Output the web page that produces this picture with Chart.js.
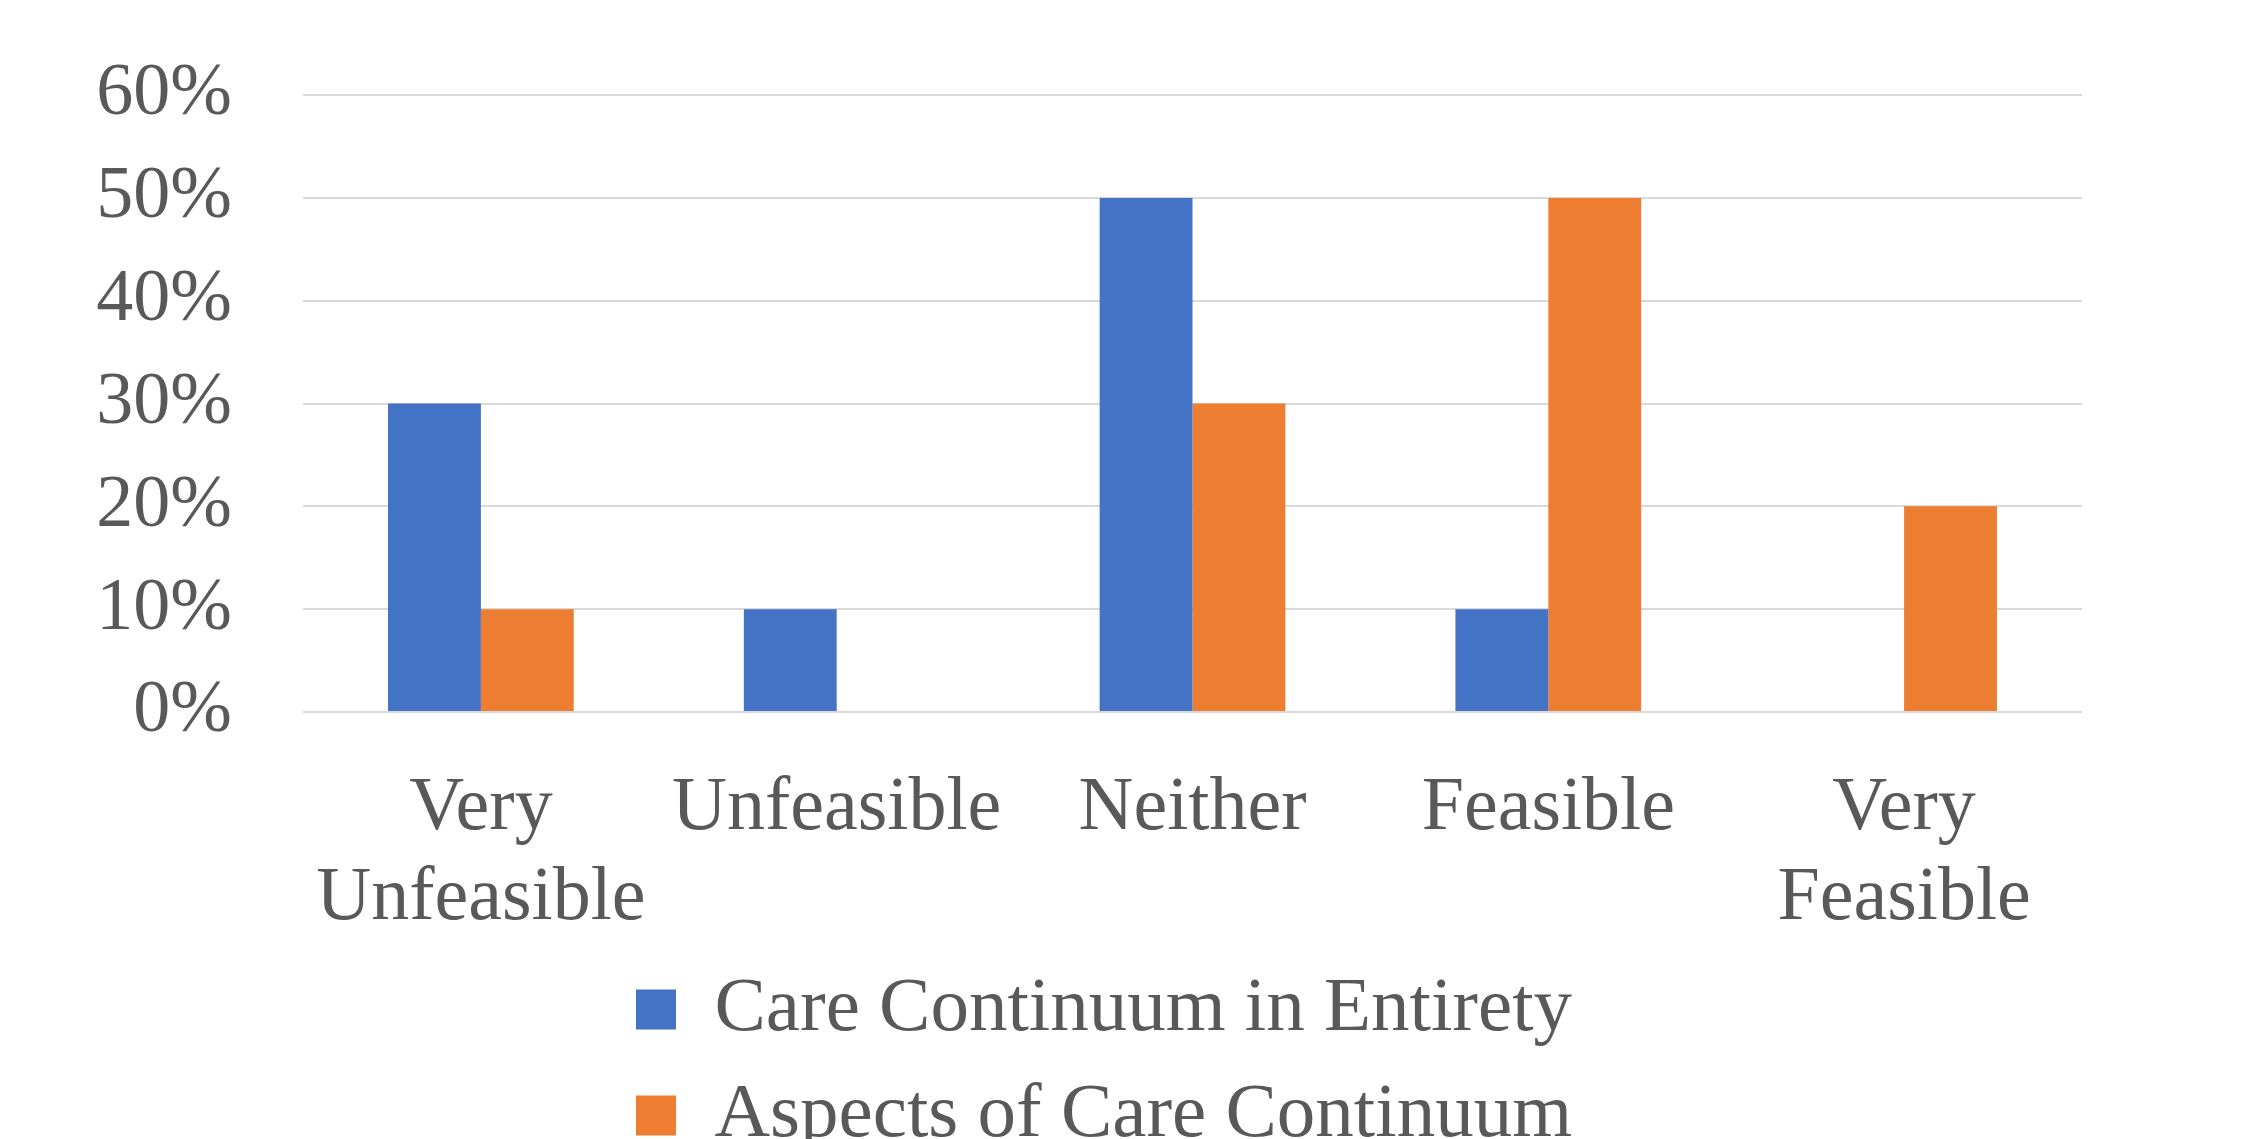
<!DOCTYPE html>
<html>
<head>
<meta charset="utf-8">
<script src="https://cdn.jsdelivr.net/npm/chart.js@4/dist/chart.umd.min.js"></script>
<style>
  html, body { margin: 0; padding: 0; background: #ffffff; overflow: hidden; }
  #wrap { width: 2267px; height: 1139px; overflow: hidden; }
  canvas { display: block; }
</style>
</head>
<body>
<div id="wrap"><canvas id="chart" width="2267" height="1164"></canvas></div>
<script>
// Feasibility ratings (share of respondents, %)
const categories = [["Very", "Unfeasible"], "Unfeasible", "Neither", "Feasible", ["Very", "Feasible"]];
const seriesNames = ["Care Continuum in Entirety", "Aspects of Care Continuum"];
const entiretyValues = [30, 10, 50, 10, 0];
const aspectsValues = [10, 0, 30, 50, 20];
const yTicks = [0, 10, 20, 30, 40, 50, 60];

const textColor = '#595959';
const serif = '"Liberation Serif", "Times New Roman", serif';

// Keeps the two legend rows centred under the chart body
const legendCentre = {
  id: 'legendCentre',
  afterLayout(chart) {
    const lg = chart.legend;
    const w = lg.right - lg.left;
    const mid = 1104;
    lg.left = mid - w / 2;
    lg.right = mid + w / 2;
  }
};

new Chart(document.getElementById('chart'), {
  type: 'bar',
  data: {
    labels: categories,
    datasets: [
      { label: seriesNames[0], data: entiretyValues, backgroundColor: '#4472C4', borderWidth: 0 },
      { label: seriesNames[1], data: aspectsValues, backgroundColor: '#ED7D31', borderWidth: 0 }
    ]
  },
  options: {
    responsive: false,
    animation: false,
    devicePixelRatio: 1,
    datasets: { bar: { categoryPercentage: 0.522, barPercentage: 1.0 } },
    layout: { padding: { top: 0, right: 185, left: 0, bottom: 0 } },
    scales: {
      x: {
        afterFit(scale) { scale.height = 230; },
        grid: { display: false, drawTicks: false },
        border: { display: false },
        ticks: {
          color: textColor,
          font: { family: serif, size: 76, lineHeight: 1.184 },
          padding: 52,
          maxRotation: 0,
          autoSkip: false
        }
      },
      y: {
        min: 0,
        max: 60,
        afterFit(scale) { scale.width = 303; },
        afterBuildTicks(scale) { scale.ticks = yTicks.map(v => ({ value: v })); },
        grid: { color: '#D9D9D9', lineWidth: 2, drawTicks: false },
        border: { display: false },
        ticks: {
          color: textColor,
          font: { family: serif, size: 74, lineHeight: 0.65 },
          padding: 71,
          autoSkip: false,
          callback: v => v + '%'
        }
      }
    },
    plugins: {
      tooltip: { enabled: false },
      legend: {
        position: 'bottom',
        fullSize: false,
        labels: {
          color: textColor,
          font: { family: serif, size: 77 },
          boxWidth: 40,
          boxHeight: 40,
          padding: 29
        }
      }
    }
  },
  plugins: [legendCentre]
});
</script>
</body>
</html>
